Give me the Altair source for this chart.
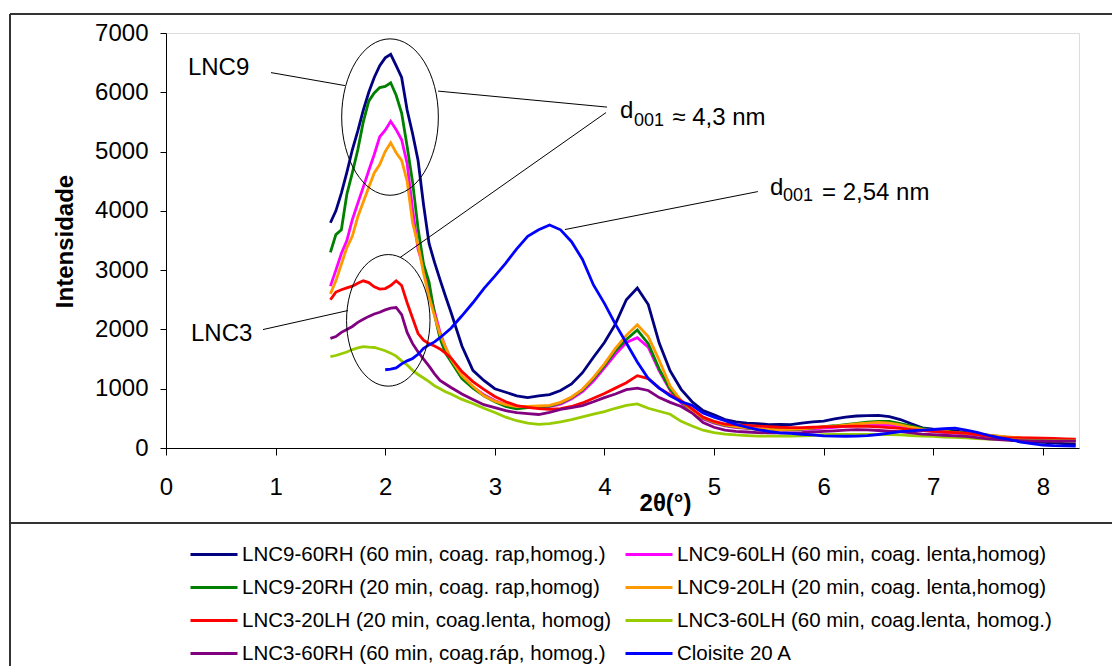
import altair as alt
import pandas as pd

# ---------------- data ----------------
two_theta = [1.50, 1.55, 1.60, 1.65, 1.70, 1.75, 1.80, 1.85, 1.90, 1.95,
             2.00, 2.05, 2.10, 2.15, 2.20, 2.25, 2.30, 2.35, 2.40, 2.45,
             2.50, 2.55, 2.60,
             2.7, 2.8, 2.9, 3.0, 3.1, 3.2, 3.3, 3.4, 3.5, 3.6, 3.7, 3.8, 3.9,
             4.0, 4.1, 4.2, 4.3, 4.4, 4.5, 4.6, 4.7, 4.8, 4.9,
             5.0, 5.1, 5.2, 5.3, 5.4, 5.5, 5.6, 5.7, 5.8, 5.9,
             6.0, 6.1, 6.2, 6.3, 6.4, 6.5, 6.6, 6.7, 6.8, 6.9,
             7.0, 7.1, 7.2, 7.3, 7.4, 7.5, 7.6, 7.7, 7.8, 7.9,
             8.0, 8.1, 8.2, 8.3]

lnc9_60rh = [3800, 4000, 4300, 4650, 5030, 5350, 5700, 6000, 6250, 6450,
             6580, 6640, 6450, 6250, 5700, 5300, 4850, 4100, 3450, 3130,
             2840, 2560, 2290,
             1720, 1310, 1140, 1000, 940, 880, 850, 880, 900, 970, 1080, 1270, 1530,
             1780, 2090, 2500, 2700, 2420, 1770, 1300, 990, 780, 630,
             560, 480, 440, 420, 410, 395, 400, 395, 420, 440,
             455, 490, 520, 540, 545, 550, 530, 480, 410, 340,
             320, 310, 290, 260, 230, 200, 165, 140, 120, 110,
             95, 85, 75, 65]

lnc9_60lh = [2730, 3000, 3280, 3500, 3850, 4130, 4400, 4680, 4950, 5250,
             5360, 5510, 5370, 5200, 4800, 4020, 3350, 3050, 2680, 2300,
             1950, 1700, 1500,
             1200, 1030, 900, 800, 730, 690, 680, 690, 700, 740, 830, 950, 1130,
             1350, 1580, 1780, 1860, 1700, 1300, 970, 760, 600, 490,
             420, 375, 345, 330, 320, 310, 305, 305, 310, 320,
             335, 350, 365, 380, 390, 395, 385, 360, 330, 300,
             280, 265, 250, 235, 220, 205, 190, 175, 165, 155,
             145, 135, 130, 125]

lnc9_20rh = [3300, 3600, 3680, 4280, 4640, 5030, 5500, 5850, 5990, 6080,
             6100, 6160, 5950, 5650, 5090, 4480, 3700, 3100, 2800, 2250,
             1850, 1600, 1460,
             1170, 1010, 880, 780, 700, 660, 680, 700, 705, 760, 850, 980, 1170,
             1390, 1640, 1830, 1990, 1760, 1330, 990, 780, 620, 500,
             430, 380, 355, 335, 315, 310, 312, 310, 320, 335,
             360, 375, 395, 415, 435, 450, 450, 410, 370, 330,
             305, 285, 265, 250, 230, 215, 195, 175, 160, 150,
             140, 130, 125, 120]

lnc9_20lh = [2600, 2820, 3100, 3380, 3570, 3900, 4150, 4400, 4640, 4780,
             5000, 5150, 4980, 4850, 4500, 3800, 3420, 2950, 2550, 2230,
             1920, 1700, 1500,
             1220, 1040, 880, 790, 730, 700, 700, 710, 720, 770, 860, 990, 1190,
             1420, 1680, 1900, 2080, 1880, 1480, 1040, 800, 630, 510,
             440, 390, 360, 340, 325, 315, 310, 315, 325, 340,
             355, 370, 385, 405, 420, 430, 420, 390, 350, 315,
             295, 280, 260, 245, 230, 215, 200, 185, 170, 160,
             150, 145, 140, 140]

lnc3_20lh = [2500, 2630, 2670, 2700, 2730, 2780, 2820, 2790, 2720, 2680,
             2690, 2740, 2820, 2740, 2450, 2190, 1930, 1820, 1760, 1720,
             1670, 1600, 1520,
             1290, 1120, 990, 870, 780, 715, 685, 665, 650, 665, 700, 760, 840,
             920, 1010, 1100, 1220, 1170, 1010, 900, 800, 660, 520,
             450, 405, 390, 380, 370, 360, 350, 345, 345, 350,
             355, 360, 365, 370, 365, 355, 345, 330, 310, 295,
             280, 270, 260, 250, 225, 195, 175, 172, 170, 170,
             165, 160, 155, 150]

lnc3_60lh = [1540, 1560, 1590, 1620, 1660, 1690, 1710, 1700, 1695, 1670,
             1640, 1600, 1550, 1470, 1400, 1310, 1240, 1180, 1120, 1050,
             1000, 950, 910,
             820, 750, 670, 600, 520, 460, 420, 400, 410, 440, 480, 525, 570,
             615, 670, 720, 745, 670, 620, 570, 450, 370, 300,
             260, 235, 220, 210, 200, 200, 200, 200, 205, 210,
             225, 228, 228, 228, 228, 228, 228, 220, 210, 200,
             195, 185, 178, 170, 160, 150, 143, 138, 133, 128,
             125, 122, 120, 120]

lnc3_60rh = [1850, 1880, 1950, 2000, 2050, 2120, 2170, 2220, 2260, 2290,
             2330, 2360, 2370, 2250, 1950, 1760, 1620, 1500, 1380, 1250,
             1140, 1080, 1020,
             910, 820, 730, 680, 630, 595, 580, 565, 600, 650, 680, 715, 780,
             850, 910, 985, 1010, 970, 850, 770, 700, 590, 430,
             350, 300, 280, 270, 260, 255, 255, 255, 260, 270,
             280, 290, 300, 310, 305, 295, 285, 275, 255, 235,
             225, 215, 205, 195, 175, 155, 140, 130, 125, 120,
             118, 116, 115, 115]

cloisite_20a = [None, None, None, None, None, None, None, None, None, None,
                1320, 1330, 1350, 1420, 1470, 1510, 1580, 1680, 1740, 1790,
                1860, 1940, 2020,
                2230, 2450, 2690, 2900, 3120, 3360, 3570, 3680, 3760, 3680, 3480, 3180, 2750,
                2440, 2090, 1770, 1450, 1170, 1010, 880, 780, 720, 590,
                520, 460, 400, 350, 310, 280, 256, 245, 232, 220,
                205, 200, 198, 200, 210, 228, 250, 275, 290, 300,
                312, 325, 335, 300, 265, 215, 175, 140, 100, 75,
                50, 40, 35, 30]

series_names = [
    "LNC9-60RH (60 min, coag. rap,homog.)",
    "LNC9-60LH (60 min, coag. lenta,homog)",
    "LNC9-20RH (20 min, coag. rap,homog)",
    "LNC9-20LH (20 min, coag. lenta,homog)",
    "LNC3-20LH (20 min, coag.lenta, homog)",
    "LNC3-60LH (60 min, coag.lenta, homog.)",
    "LNC3-60RH (60 min, coag.ráp, homog.)",
    "Cloisite 20 A",
]
series_values = [lnc9_60rh, lnc9_60lh, lnc9_20rh, lnc9_20lh,
                 lnc3_20lh, lnc3_60lh, lnc3_60rh, cloisite_20a]
series_colors = ["#000080", "#FF00FF", "#008000", "#FF9900",
                 "#FF0000", "#99CC00", "#800080", "#0000FF"]
# the legend fills its two columns top-down: left column first
legend_order = [0, 2, 4, 6, 1, 3, 5, 7]

x_ticks = [0, 1, 2, 3, 4, 5, 6, 7, 8]
y_ticks = [0, 1000, 2000, 3000, 4000, 5000, 6000, 7000]

# annotations (data coordinates)
ellipse_lnc9 = {"x": 2.044, "y": 5582}
ellipse_lnc3 = {"x": 2.028, "y": 2153}
leader_lines = {
    "x": [0.958, 2.482, 4.015, 5.40, 0.885],
    "y": [6332, 6020, 5658, 4325, 1998],
    "x2": [1.633, 4.024, 2.135, 3.64, 1.66],
    "y2": [6113, 5750, 3212, 3685, 2319],
}
big_labels = {
    "x": [0.20, 0.228, 4.142, 4.62, 5.511, 5.985],
    "y": [6298, 1801, 5573, 5455, 4275, 4190],
    "t": ["LNC9", "LNC3", "d", "≈ 4,3 nm", "d", "= 2,54 nm"],
}
sub_labels = {"x": [4.27, 5.63], "y": [5438, 4174], "t": ["001", "001"]}

FONT = "Liberation Sans"

# ---------------- build ----------------
rows = []
for name, vals in zip(series_names, series_values):
    for xv, iv in zip(two_theta, vals):
        if iv is not None:
            rows.append({"two_theta": xv, "I": iv, "serie": name})
df = pd.DataFrame(rows)

dom = [series_names[i] for i in legend_order]
rng = [series_colors[i] for i in legend_order]

xs = alt.Scale(domain=[0, 8.33], nice=False, zero=False)
ys = alt.Scale(domain=[0, 7000], nice=False)

x_axis = alt.Axis(values=x_ticks, format="d", grid=False, labelFontSize=24, labelFont=FONT,
                  labelColor="black", tickSize=7, tickColor="black", domainColor="black",
                  labelPadding=20, labelFlush=False, title="2θ(°)", titleFontSize=24,
                  titleFont=FONT, titleFontWeight="bold", titleColor="black",
                  titleX=499, titleY=55, titleBaseline="middle", titleAlign="center")
y_axis = alt.Axis(values=y_ticks, format="d", grid=False, labelFontSize=24, labelFont=FONT,
                  labelColor="black", tickSize=6, tickColor="black", domainColor="black",
                  labelPadding=12, labelFlush=False, title="Intensidade", titleFontSize=24,
                  titleFont=FONT, titleFontWeight="bold", titleColor="black",
                  titleAngle=270, titleX=-101, titleY=208, titleBaseline="middle",
                  titleAlign="center")

legend = alt.Legend(title=None, orient="none", legendX=23, legendY=511, columns=2,
                    symbolType="stroke", symbolSize=2209, symbolStrokeWidth=3,
                    clipHeight=21,
                    labelFontSize=20.5, labelFont=FONT, labelColor="black",
                    labelOffset=3, rowPadding=12, columnPadding=12, labelLimit=700,
                    padding=0, symbolOffset=0)

lines = alt.Chart(df).mark_line(strokeWidth=2.8).encode(
    x=alt.X("two_theta:Q", scale=xs, axis=x_axis),
    y=alt.Y("I:Q", scale=ys, axis=y_axis),
    color=alt.Color("serie:N", sort=dom,
                    scale=alt.Scale(domain=dom, range=rng),
                    legend=legend),
)

ell9 = alt.Chart(pd.DataFrame([ellipse_lnc9])).mark_point(
    shape="M-0.618,0A0.618,1,0,1,1,0.618,0A0.618,1,0,1,1,-0.618,0Z",
    size=24461, filled=False, stroke="black", strokeWidth=1, opacity=1,
).encode(x=alt.X("x:Q", scale=xs), y=alt.Y("y:Q", scale=ys))

ell3 = alt.Chart(pd.DataFrame([ellipse_lnc3])).mark_point(
    shape="M-0.634,0A0.634,1,0,1,1,0.634,0A0.634,1,0,1,1,-0.634,0Z",
    size=17319, filled=False, stroke="black", strokeWidth=1, opacity=1,
).encode(x=alt.X("x:Q", scale=xs), y=alt.Y("y:Q", scale=ys))

leaders = alt.Chart(pd.DataFrame(leader_lines)).mark_rule(color="black", strokeWidth=1).encode(
    x=alt.X("x:Q", scale=xs), y=alt.Y("y:Q", scale=ys), x2="x2:Q", y2="y2:Q")

texts = alt.Chart(pd.DataFrame(big_labels)).mark_text(
    align="left", baseline="alphabetic", font=FONT, fontSize=24, color="black"
).encode(x=alt.X("x:Q", scale=xs), y=alt.Y("y:Q", scale=ys), text="t:N")

subs = alt.Chart(pd.DataFrame(sub_labels)).mark_text(
    align="left", baseline="alphabetic", font=FONT, fontSize=18, color="black"
).encode(x=alt.X("x:Q", scale=xs), y=alt.Y("y:Q", scale=ys), text="t:N")

one = pd.DataFrame({"k": [0]})
frame_top = alt.Chart(one).mark_rule(color="#333333", strokeWidth=2).encode(
    x=alt.value(-156), x2=alt.value(946), y=alt.value(-19), y2=alt.value(-19))
frame_left = alt.Chart(one).mark_rule(color="#333333", strokeWidth=2).encode(
    x=alt.value(-156), x2=alt.value(-156), y=alt.value(-19), y2=alt.value(640))
frame_sep = alt.Chart(one).mark_rule(color="#333333", strokeWidth=2).encode(
    x=alt.value(-156), x2=alt.value(946), y=alt.value(490), y2=alt.value(490))

chart = alt.layer(
    frame_top, frame_left, frame_sep, lines, ell9, ell3, leaders, texts, subs
).properties(
    width=913, height=415,
    padding={"left": 166, "top": 33, "right": 33, "bottom": 218},
    autosize=alt.AutoSizeParams(type="none"),
    background="white",
).configure_view(stroke=None).configure(font=FONT)

chart.save("out.html", embed_options={"renderer": "svg", "actions": False})
